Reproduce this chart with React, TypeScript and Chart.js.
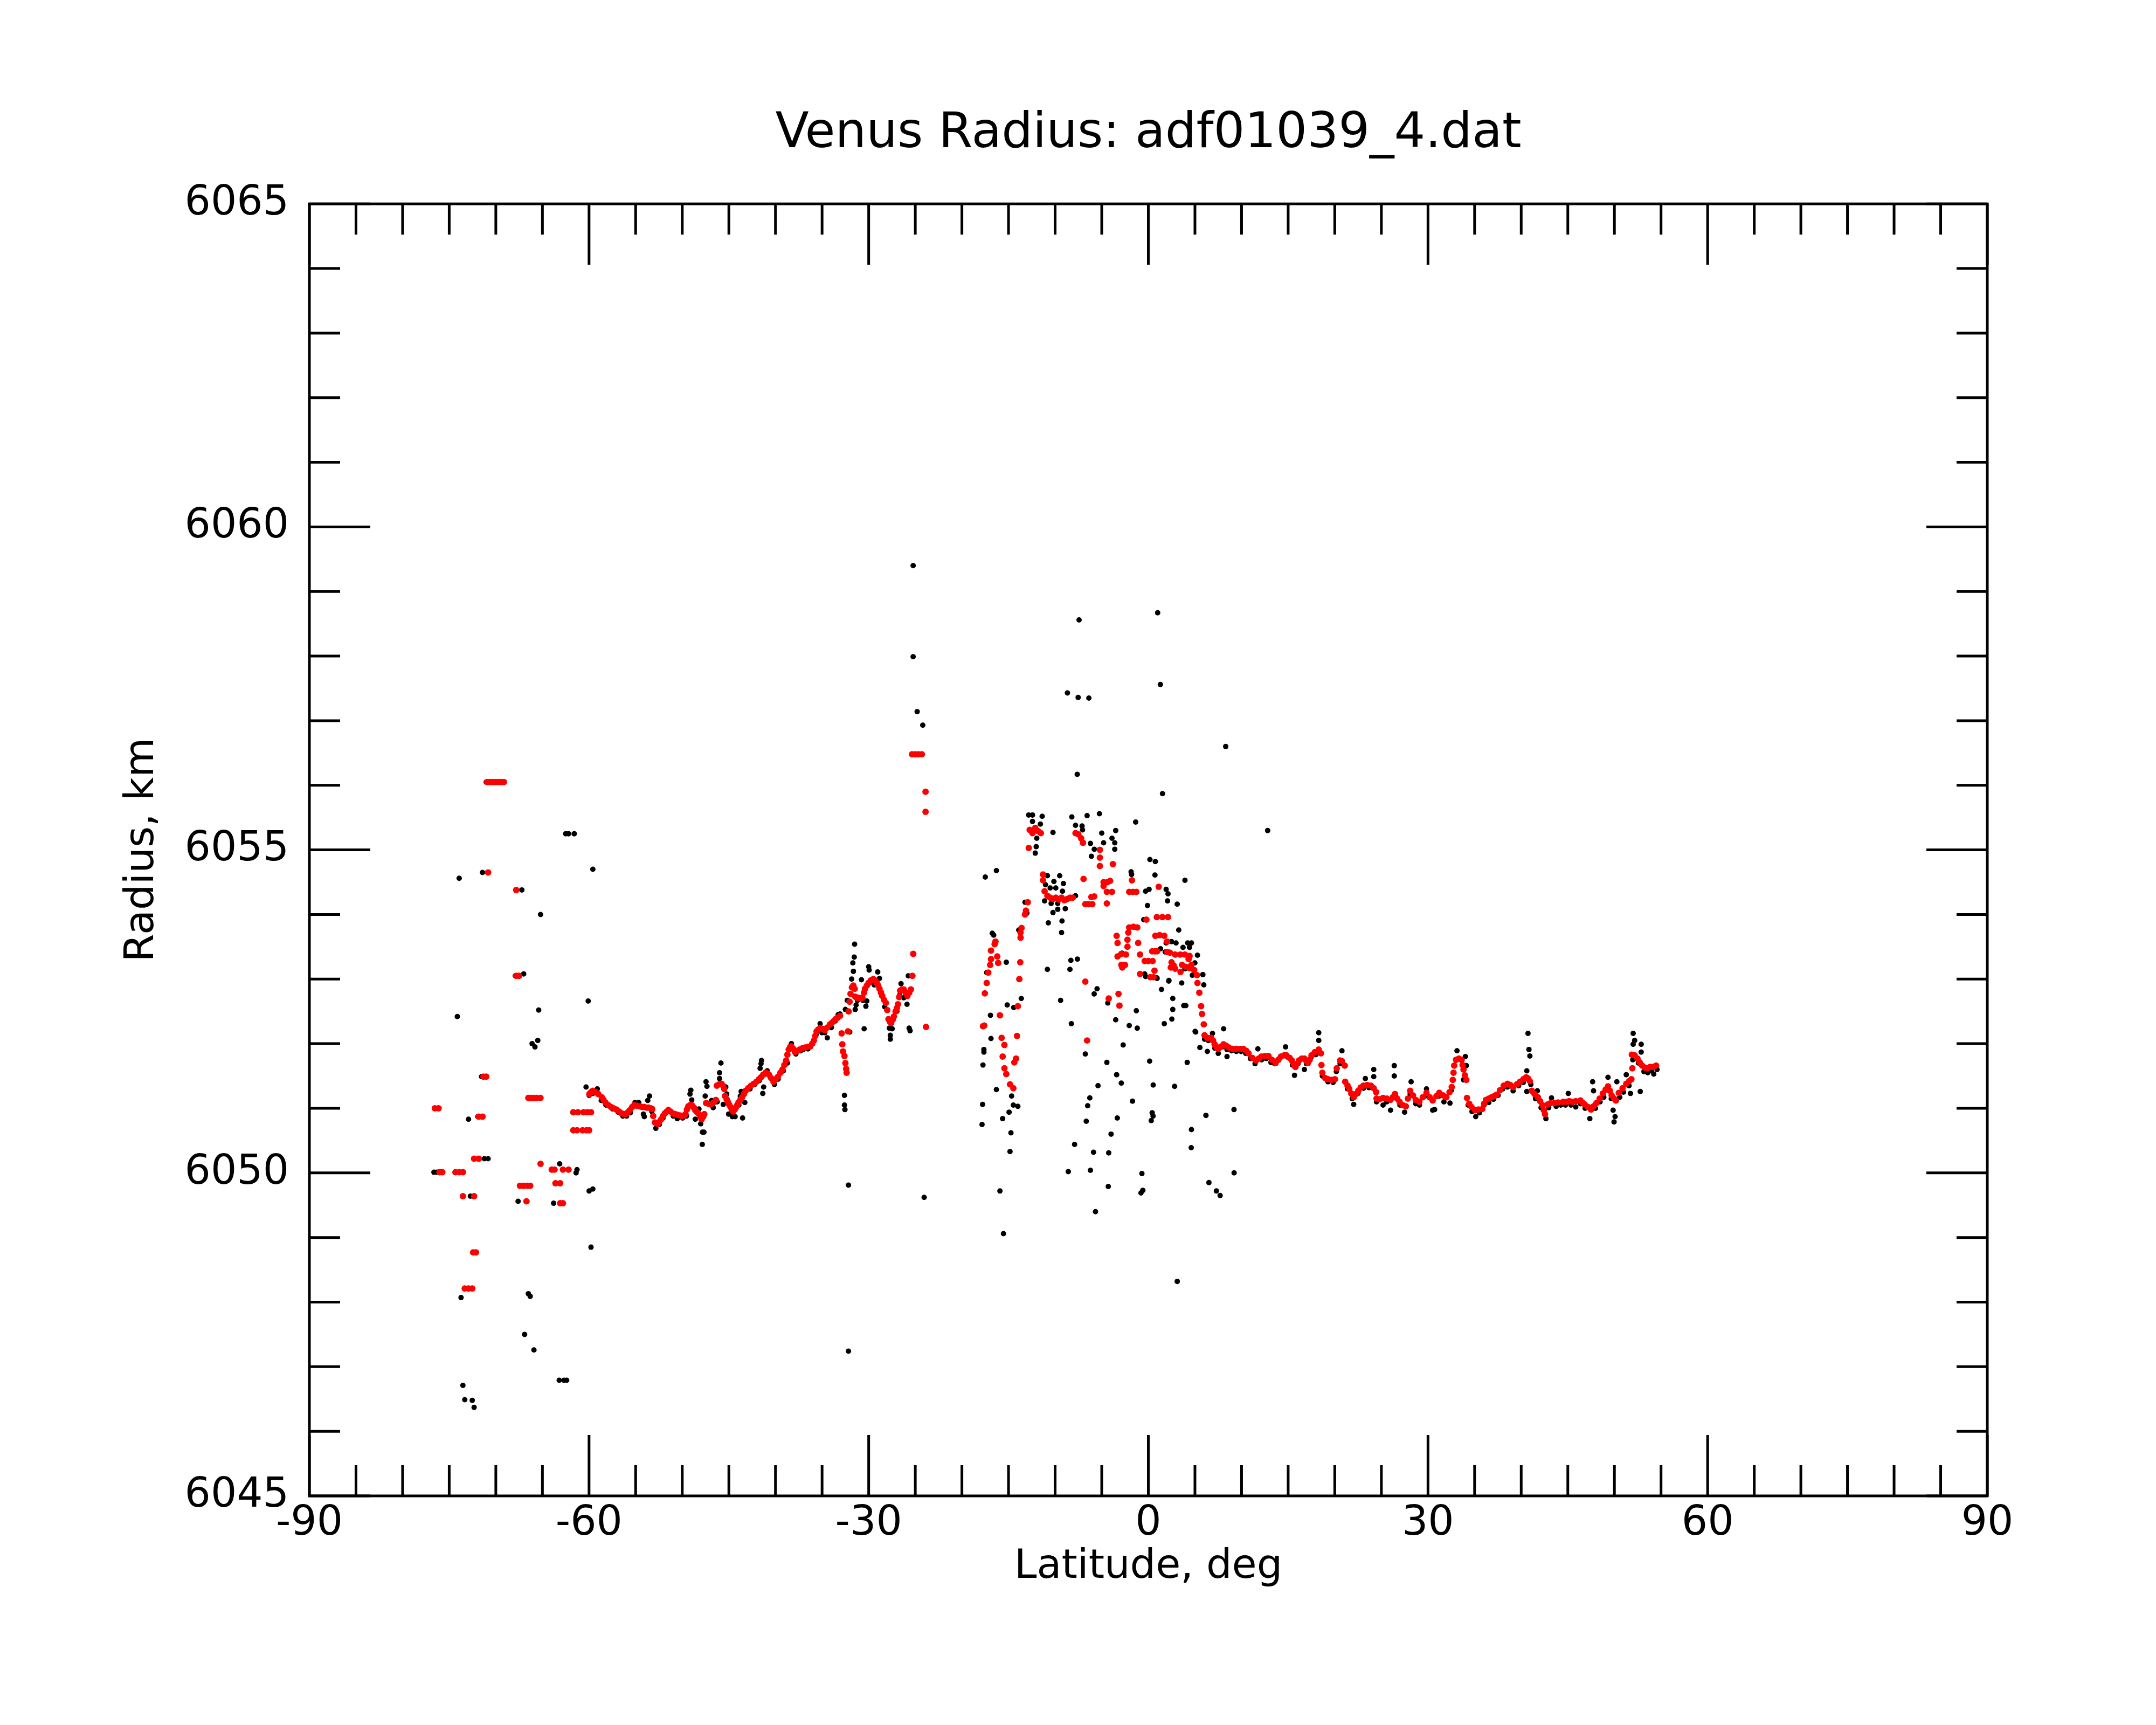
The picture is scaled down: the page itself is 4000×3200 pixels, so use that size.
import React, { useEffect, useRef } from "react";
import { Chart, registerables } from "chart.js";

Chart.register(...registerables);

// ---------- axis definitions ----------
const X_MIN = -90;
const X_MAX = 90;
const Y_MIN = 6045;
const Y_MAX = 6065;
const X_MAJOR_STEP = 30;
const X_MINOR_STEP = 5;
const Y_MAJOR_STEP = 5;
const Y_MINOR_STEP = 1;

const TITLE = "Venus Radius: adf01039_4.dat";
const X_TITLE = "Latitude, deg";
const Y_TITLE = "Radius, km";

// ---------- smoothed (red) data: [latitude, radius] ----------
const redSouthScatter: number[][] = [
  [-76.54, 6051.0], [-76.14, 6051.0],
  [-76.04, 6050.01], [-75.74, 6050.01],
  [-74.33, 6050.01], [-73.93, 6050.01], [-73.53, 6050.01],
  [-73.53, 6049.64], [-72.33, 6049.64],
  [-72.43, 6048.77], [-72.13, 6048.77],
  [-73.33, 6048.21], [-72.93, 6048.21], [-72.53, 6048.21],
  [-72.33, 6050.22], [-71.83, 6050.22],
  [-71.83, 6050.87], [-71.43, 6050.87],
  [-71.33, 6051.49], [-71.03, 6051.49],
  [-70.83, 6054.65],
  [-70.93, 6056.05], [-70.63, 6056.05], [-70.33, 6056.05], [-70.03, 6056.05], [-69.73, 6056.05], [-69.43, 6056.05], [-69.13, 6056.05],
  [-67.81, 6054.38],
  [-67.81, 6053.05], [-67.51, 6053.05],
  [-66.51, 6051.16], [-66.21, 6051.16], [-65.91, 6051.16], [-65.61, 6051.16], [-65.21, 6051.16],
  [-67.41, 6049.8], [-67.01, 6049.8], [-66.61, 6049.8], [-66.31, 6049.8],
  [-66.71, 6049.56],
  [-65.2, 6050.14],
  [-64.0, 6050.05], [-63.7, 6050.05], [-62.8, 6050.05], [-62.2, 6050.05],
  [-63.6, 6049.84], [-63.1, 6049.84],
  [-63.1, 6049.53], [-62.8, 6049.53],
  [-61.69, 6050.66], [-61.29, 6050.66], [-60.69, 6050.66], [-60.29, 6050.66], [-59.99, 6050.66],
  [-61.69, 6050.94], [-61.19, 6050.94], [-60.59, 6050.94], [-60.19, 6050.94], [-59.79, 6050.94],
];

const redSouthTrack: number[][] = [
  [-59.97, 6051.22], [-59.79, 6051.25], [-59.59, 6051.27], [-59.29, 6051.25], [-59.01, 6051.22], [-58.63, 6051.17],
  [-58.44, 6051.13], [-58.24, 6051.09], [-57.94, 6051.05], [-57.65, 6051.02], [-57.37, 6051.0], [-57.07, 6050.98],
  [-56.77, 6050.95], [-56.49, 6050.92], [-56.22, 6050.91], [-56.01, 6050.91], [-55.82, 6050.94], [-55.63, 6050.97],
  [-55.37, 6051.02], [-55.15, 6051.05], [-54.87, 6051.04], [-54.57, 6051.03], [-54.32, 6051.02], [-54.09, 6051.02],
  [-53.81, 6051.01], [-53.6, 6051.01], [-53.36, 6051.0], [-53.22, 6050.99], [-53.12, 6050.88], [-52.93, 6050.78],
  [-52.64, 6050.76], [-52.46, 6050.79], [-52.26, 6050.83], [-52.06, 6050.88], [-51.87, 6050.92], [-51.66, 6050.95],
  [-51.49, 6050.97], [-51.26, 6050.95], [-51.01, 6050.92], [-50.76, 6050.91], [-50.53, 6050.9], [-50.26, 6050.89],
  [-50.05, 6050.88], [-49.8, 6050.89], [-49.65, 6050.91], [-49.5, 6050.98], [-49.35, 6051.03], [-49.15, 6051.05],
  [-48.98, 6051.05], [-48.75, 6051.01], [-48.6, 6050.97], [-48.4, 6050.94], [-48.21, 6050.91], [-48.05, 6050.87],
  [-47.92, 6050.83], [-47.75, 6050.87], [-47.63, 6050.91], [-47.44, 6051.08], [-47.2, 6051.07], [-46.96, 6051.06],
  [-46.65, 6051.09], [-46.39, 6051.13], [-46.29, 6051.35], [-46.05, 6051.37], [-45.79, 6051.38], [-45.63, 6051.35],
  [-45.5, 6051.3], [-45.41, 6051.19], [-45.23, 6051.14], [-45.12, 6051.1], [-44.98, 6051.06], [-44.83, 6051.02],
  [-44.68, 6050.98], [-44.54, 6050.95], [-44.38, 6050.98], [-44.25, 6051.01], [-44.11, 6051.05], [-43.97, 6051.09],
  [-43.78, 6051.13], [-43.58, 6051.17], [-43.38, 6051.22], [-43.2, 6051.27], [-42.93, 6051.31], [-42.62, 6051.35],
  [-42.33, 6051.38], [-42.04, 6051.41], [-41.77, 6051.45], [-41.55, 6051.48], [-41.32, 6051.52], [-41.07, 6051.55],
  [-40.87, 6051.54], [-40.69, 6051.52], [-40.47, 6051.47], [-40.21, 6051.41], [-39.97, 6051.45], [-39.73, 6051.49],
  [-39.47, 6051.55], [-39.25, 6051.6], [-39.05, 6051.67], [-38.86, 6051.74], [-38.72, 6051.83], [-38.58, 6051.91],
  [-38.42, 6051.95], [-38.29, 6051.96], [-38.1, 6051.92], [-37.9, 6051.87], [-37.66, 6051.89], [-37.41, 6051.91],
  [-37.11, 6051.93], [-36.84, 6051.94], [-36.56, 6051.95], [-36.26, 6051.96], [-36.06, 6052.0], [-35.88, 6052.05],
  [-35.73, 6052.12], [-35.59, 6052.19], [-35.41, 6052.22], [-35.21, 6052.24], [-34.96, 6052.23], [-34.72, 6052.21],
  [-34.46, 6052.25], [-34.15, 6052.3], [-33.96, 6052.32], [-33.76, 6052.35], [-33.56, 6052.38], [-33.37, 6052.4],
  [-33.08, 6052.43],
  [-32.9, 6052.16], [-32.83, 6051.99], [-32.76, 6051.88], [-32.6, 6051.81], [-32.5, 6051.7], [-32.42, 6051.61], [-32.37, 6051.55],
  [-32.22, 6052.19], [-32.15, 6052.5], [-32.05, 6052.65], [-31.95, 6052.77], [-31.8, 6052.87], [-31.65, 6052.9],
  [-31.5, 6052.85], [-31.45, 6052.73], [-31.26, 6052.71], [-31.05, 6052.71], [-30.85, 6052.7], [-30.68, 6052.71],
  [-30.5, 6052.79], [-30.4, 6052.85], [-30.2, 6052.9], [-30.01, 6052.94], [-29.78, 6052.98], [-29.51, 6053.0],
  [-29.3, 6052.98], [-29.12, 6052.94], [-28.98, 6052.9], [-28.84, 6052.85], [-28.68, 6052.79], [-28.55, 6052.74],
  [-28.36, 6052.68], [-28.16, 6052.63], [-28.01, 6052.52], [-27.88, 6052.38], [-27.73, 6052.34], [-27.59, 6052.32],
  [-27.43, 6052.37], [-27.3, 6052.42], [-27.11, 6052.5], [-26.98, 6052.55], [-26.86, 6052.61], [-26.73, 6052.72],
  [-26.63, 6052.82], [-26.43, 6052.84], [-26.24, 6052.84], [-26.04, 6052.79], [-25.85, 6052.74], [-25.65, 6052.79],
  [-25.47, 6052.84], [-25.31, 6053.05], [-25.22, 6053.39],
  [-23.85, 6052.26],
  [-25.35, 6056.48], [-25.0, 6056.48], [-24.65, 6056.48], [-24.3, 6056.48],
  [-23.9, 6055.9], [-23.9, 6055.59],
];

const redEquator: number[][] = [
  [-17.74, 6052.27], [-17.6, 6052.28], [-17.54, 6052.78], [-17.34, 6052.94], [-17.17, 6053.1], [-16.97, 6053.22],
  [-16.88, 6053.31], [-16.11, 6053.25], [-16.21, 6053.35], [-16.88, 6053.44], [-16.4, 6053.58], [-16.49, 6053.54],
  [-15.63, 6051.8], [-14.19, 6051.77], [-14.38, 6051.71], [-15.44, 6051.62], [-15.24, 6051.53], [-14.84, 6051.37], [-14.48, 6051.31],
  [-15.92, 6052.44], [-15.74, 6052.09], [-15.44, 6051.98], [-14.09, 6052.12], [-14.0, 6052.58], [-13.74, 6053.26], [-13.84, 6053.0],
  [-13.6, 6053.79], [-13.71, 6053.72], [-13.71, 6053.64], [-13.13, 6054.06], [-13.23, 6054.0], [-12.93, 6054.19],
  [-12.83, 6055.03],
  [-12.73, 6055.31], [-12.43, 6055.26], [-12.13, 6055.34], [-11.83, 6055.29], [-11.53, 6055.26],
  [-11.3, 6054.62], [-11.3, 6054.53],
  [-11.13, 6054.36], [-10.83, 6054.29], [-10.53, 6054.26], [-10.23, 6054.24], [-9.93, 6054.26], [-9.62, 6054.23],
  [-9.31, 6054.26], [-9.01, 6054.22], [-8.71, 6054.24], [-8.41, 6054.26], [-8.11, 6054.26],
  [-7.81, 6055.26], [-7.51, 6055.24], [-7.21, 6055.18], [-7.01, 6055.11],
  [-5.2, 6055.0], [-5.2, 6054.88], [-5.2, 6054.75], [-3.8, 6054.78],
  [-6.95, 6054.55], [-5.81, 6054.28], [-6.11, 6054.27], [-6.76, 6054.16], [-6.41, 6054.16], [-6.01, 6054.16],
  [-4.8, 6054.5], [-4.4, 6054.5], [-4.1, 6054.52], [-4.8, 6054.44], [-4.45, 6054.35], [-3.9, 6054.35], [-4.45, 6054.17],
  [-1.76, 6054.53], [-1.66, 6054.35], [-2.05, 6054.35], [-1.29, 6054.35],
  [1.11, 6054.43],
  [0.91, 6053.96], [1.51, 6053.96], [2.11, 6053.96], [-0.21, 6053.92],
  [-2.05, 6053.8], [-1.59, 6053.81], [-1.19, 6053.8], [-2.15, 6053.72],
  [0.75, 6053.67], [1.21, 6053.68], [1.71, 6053.67],
  [-3.4, 6053.67], [-2.24, 6053.61], [-1.09, 6053.56], [-3.3, 6053.56], [-2.24, 6053.5],
  [2.01, 6053.58],
  [0.41, 6053.43], [0.71, 6053.43], [0.94, 6053.43], [2.01, 6053.42], [2.31, 6053.41],
  [-2.9, 6053.39], [-2.4, 6053.38], [-3.3, 6053.35], [-0.89, 6053.38], [-0.39, 6053.28], [0.01, 6053.28], [0.46, 6053.28],
  [2.87, 6053.38], [3.42, 6053.38], [3.92, 6053.38], [4.42, 6053.36], [4.32, 6053.31],
  [-2.9, 6053.22], [-2.5, 6053.22], [-2.8, 6053.18],
  [2.49, 6053.26], [2.72, 6053.21], [2.87, 6053.16], [3.62, 6053.22], [4.02, 6053.19], [4.42, 6053.17], [4.62, 6053.22],
  [4.92, 6053.14], [5.22, 6053.06], [3.45, 6053.11],
  [0.66, 6053.13], [-0.89, 6053.08], [0.21, 6053.03], [0.56, 6053.03],
  [5.27, 6052.94], [5.47, 6052.79], [5.66, 6052.58], [5.76, 6052.46], [5.95, 6052.3],
  [2.41, 6053.18],
  [-4.25, 6052.7], [-3.2, 6052.77], [-3.1, 6052.59],
  [-6.76, 6052.96], [-6.57, 6052.05],
];

const redNorthTrack: number[][] = [
  [6.03, 6052.13], [6.33, 6052.09], [6.73, 6052.09], [6.94, 6052.05], [7.11, 6051.99], [7.34, 6051.94], [7.5, 6051.92],
  [7.74, 6051.95], [8.07, 6051.99], [8.34, 6051.97], [8.65, 6051.94], [9.04, 6051.92], [9.42, 6051.92], [9.84, 6051.92],
  [10.19, 6051.92], [10.5, 6051.89], [10.75, 6051.85], [11.15, 6051.78], [11.55, 6051.74], [11.85, 6051.77], [12.12, 6051.8],
  [12.5, 6051.81], [12.89, 6051.81], [13.25, 6051.75], [13.65, 6051.7], [13.95, 6051.75], [14.23, 6051.8], [14.56, 6051.82],
  [14.82, 6051.82], [15.16, 6051.78], [15.4, 6051.74], [15.61, 6051.68], [15.78, 6051.64], [15.96, 6051.69], [16.16, 6051.74],
  [16.46, 6051.77], [16.74, 6051.77], [16.96, 6051.73], [17.12, 6051.7], [17.31, 6051.75], [17.51, 6051.82], [17.86, 6051.87],
  [18.28, 6051.91], [18.52, 6051.85], [18.57, 6051.67], [18.67, 6051.55], [18.97, 6051.47], [19.27, 6051.45], [19.67, 6051.44],
  [20.02, 6051.45], [20.21, 6051.62], [20.57, 6051.74], [20.77, 6051.73], [21.07, 6051.66], [21.12, 6051.41], [21.37, 6051.35],
  [21.55, 6051.3], [21.77, 6051.23], [22.03, 6051.17], [22.27, 6051.22], [22.52, 6051.27], [22.78, 6051.32], [23.08, 6051.35],
  [23.48, 6051.36], [23.88, 6051.35], [24.18, 6051.31], [24.44, 6051.25], [24.48, 6051.15], [24.78, 6051.14], [25.18, 6051.16],
  [25.58, 6051.15], [25.98, 6051.13], [26.23, 6051.17], [26.46, 6051.22], [26.69, 6051.15], [26.95, 6051.1], [27.29, 6051.05],
  [27.62, 6051.03], [27.84, 6051.15], [28.09, 6051.27], [28.39, 6051.2], [28.69, 6051.13], [29.07, 6051.1], [29.44, 6051.17],
  [29.84, 6051.24], [30.19, 6051.17], [30.5, 6051.12], [30.91, 6051.19], [31.21, 6051.24], [31.61, 6051.2], [31.97, 6051.17],
  [32.31, 6051.25], [32.55, 6051.33], [32.66, 6051.44], [32.74, 6051.55], [32.81, 6051.66], [33.01, 6051.75], [33.31, 6051.77],
  [33.61, 6051.75], [33.71, 6051.67], [33.81, 6051.6], [33.96, 6051.51], [34.11, 6051.44], [34.18, 6051.16], [34.42, 6051.07],
  [34.67, 6051.02], [35.06, 6050.97], [35.42, 6050.98], [35.82, 6050.99], [36.02, 6051.07], [36.22, 6051.13], [36.52, 6051.15],
  [36.82, 6051.17], [37.12, 6051.19], [37.36, 6051.21], [37.72, 6051.28], [38.12, 6051.35], [38.53, 6051.38], [38.83, 6051.36],
  [39.13, 6051.33], [39.53, 6051.37], [39.87, 6051.41], [40.23, 6051.45], [40.53, 6051.48], [40.73, 6051.46], [40.93, 6051.42],
  [41.13, 6051.27], [41.43, 6051.22], [41.79, 6051.17], [42.03, 6051.11], [42.27, 6051.05], [42.43, 6050.97], [42.55, 6050.91],
  [42.85, 6051.06], [43.15, 6051.08], [43.55, 6051.08], [43.95, 6051.09], [44.5, 6051.1], [44.85, 6051.1], [45.15, 6051.11],
  [45.45, 6051.1], [45.85, 6051.11], [46.35, 6051.12], [46.56, 6051.09], [46.81, 6051.06], [47.16, 6051.02], [47.49, 6050.98],
  [47.76, 6051.03], [48.06, 6051.08], [48.41, 6051.15], [48.76, 6051.23], [49.06, 6051.29], [49.31, 6051.34], [49.51, 6051.27],
  [49.7, 6051.2], [49.96, 6051.15], [50.16, 6051.12], [50.47, 6051.24], [50.87, 6051.31], [51.27, 6051.38], [51.57, 6051.42],
  [51.82, 6051.45], [51.92, 6051.62], [51.87, 6051.83], [52.17, 6051.82], [52.47, 6051.77], [52.72, 6051.71], [52.97, 6051.66],
  [53.27, 6051.63], [53.55, 6051.62], [53.82, 6051.64], [54.12, 6051.64], [54.47, 6051.66],
];

// ---------- raw (black) data: [latitude, radius] ----------
const blackSouthScatter: number[][] = [
  [-73.93, 6054.56], [-71.43, 6054.65], [-67.21, 6054.38], [-62.5, 6055.25], [-62.2, 6055.25], [-61.59, 6055.25],
  [-59.59, 6054.7], [-65.2, 6054.0], [-67.91, 6053.05], [-67.01, 6053.08], [-60.09, 6052.66], [-74.13, 6052.42],
  [-65.4, 6052.52], [-66.11, 6052.0], [-65.8, 6051.95], [-65.5, 6052.05], [-71.53, 6051.49], [-72.93, 6050.83],
  [-71.93, 6050.87], [-71.23, 6050.22], [-70.83, 6050.22], [-76.64, 6050.01], [-76.34, 6050.01], [-63.15, 6050.14],
  [-61.29, 6050.05], [-61.39, 6050.0], [-67.61, 6049.56], [-63.8, 6049.53], [-59.99, 6049.72], [-59.59, 6049.75],
  [-72.73, 6049.64], [-59.79, 6048.85], [-72.13, 6048.77], [-73.73, 6048.07], [-66.51, 6048.13], [-66.31, 6048.09],
  [-66.91, 6047.5], [-65.91, 6047.26], [-63.2, 6046.79], [-62.7, 6046.79], [-62.4, 6046.79], [-73.53, 6046.71],
  [-73.33, 6046.49], [-72.53, 6046.48], [-72.33, 6046.37], [-71.03, 6056.05], [-60.32, 6051.33],
];

const blackSouthTrack: number[][] = [
  [-59.99, 6051.2], [-59.59, 6051.23], [-59.11, 6051.3], [-58.69, 6051.12], [-58.19, 6051.05], [-57.47, 6050.99],
  [-56.87, 6050.94], [-56.37, 6050.88], [-55.97, 6050.88], [-55.57, 6050.93], [-55.07, 6051.09], [-54.67, 6051.09],
  [-54.17, 6050.91], [-54.07, 6050.87], [-53.7, 6051.12], [-53.51, 6051.19], [-53.26, 6050.95], [-52.83, 6050.69],
  [-52.46, 6050.75], [-52.06, 6050.85], [-51.49, 6050.98], [-50.96, 6050.88], [-50.53, 6050.84], [-49.96, 6050.85],
  [-49.55, 6050.88], [-49.17, 6051.22], [-49.08, 6051.28], [-48.98, 6051.13], [-48.6, 6050.83], [-48.21, 6050.99],
  [-48.02, 6050.76], [-47.67, 6050.63], [-47.83, 6050.63], [-47.85, 6050.44], [-47.45, 6051.41], [-47.35, 6051.34],
  [-47.54, 6051.19], [-46.85, 6051.12], [-46.68, 6051.01], [-46.25, 6051.1], [-45.85, 6051.7], [-46.0, 6051.55],
  [-46.0, 6051.46], [-45.33, 6051.33], [-45.23, 6051.22], [-45.6, 6051.06], [-45.03, 6050.91], [-44.63, 6050.87],
  [-44.33, 6050.87], [-43.93, 6051.05], [-43.53, 6050.85], [-43.68, 6051.26], [-43.77, 6051.19], [-43.29, 6051.09],
  [-42.73, 6051.3], [-42.23, 6051.37], [-41.72, 6051.43], [-41.5, 6051.74], [-41.55, 6051.69], [-41.65, 6051.62],
  [-40.88, 6051.58], [-40.69, 6051.52], [-41.27, 6051.33], [-41.36, 6051.23], [-40.11, 6051.37], [-39.72, 6051.45],
  [-39.15, 6051.58], [-38.72, 6051.7], [-38.29, 6052.0], [-37.81, 6051.84], [-37.31, 6051.89], [-37.03, 6051.91],
  [-36.51, 6051.92], [-36.01, 6052.0], [-35.61, 6052.15], [-35.21, 6052.31], [-35.01, 6052.17], [-34.71, 6052.17],
  [-34.44, 6052.09], [-34.01, 6052.25], [-33.6, 6052.35], [-33.27, 6052.45],
  [-31.51, 6053.54], [-31.55, 6053.34], [-31.7, 6053.25], [-31.64, 6053.12], [-31.83, 6053.0], [-30.78, 6052.99],
  [-30.0, 6053.19], [-29.95, 6053.14], [-29.03, 6053.11], [-28.84, 6053.01], [-29.41, 6052.91], [-30.2, 6052.66],
  [-30.3, 6052.58], [-31.35, 6052.6], [-31.45, 6052.53], [-32.3, 6052.67], [-32.5, 6052.53], [-33.08, 6052.46],
  [-32.03, 6052.18], [-30.49, 6052.23], [-26.53, 6052.93], [-25.75, 6053.05], [-27.78, 6052.24], [-27.48, 6052.23],
  [-27.68, 6052.13], [-27.68, 6052.07], [-25.89, 6052.61], [-25.66, 6052.24], [-25.56, 6052.2], [-26.24, 6052.71],
  [-31.2, 6052.67], [-30.6, 6052.67], [-29.58, 6052.96], [-28.28, 6052.57], [-26.98, 6052.5], [-26.68, 6052.75],
  [-32.6, 6051.2], [-32.6, 6051.05], [-32.55, 6050.98], [-32.17, 6049.81], [-32.17, 6047.24],
  [-25.23, 6059.4], [-25.23, 6057.99], [-24.8, 6057.14], [-24.2, 6056.93], [-24.05, 6049.62],
];

const blackEquator: number[][] = [
  [-7.43, 6058.56], [1.0, 6058.67], [-8.68, 6057.43], [-7.53, 6057.36], [-6.38, 6057.35], [1.29, 6057.56],
  [-7.63, 6056.17], [1.52, 6055.87], [8.3, 6056.6], [12.8, 6055.3],
  [-12.83, 6055.54], [-12.43, 6055.54], [-11.39, 6055.52], [-8.21, 6055.51], [-6.57, 6055.53], [-5.25, 6055.56],
  [-1.36, 6055.43], [-12.43, 6055.44], [-11.58, 6055.4], [-7.81, 6055.38], [-7.11, 6055.37], [-7.06, 6055.31],
  [-10.23, 6055.27], [-5.0, 6055.26], [-3.5, 6055.3],
  [-11.97, 6055.18], [-12.03, 6055.05], [-12.13, 6054.95], [-6.21, 6055.1], [-5.8, 6055.01], [-6.11, 6054.9],
  [-4.8, 6055.11], [-3.9, 6055.18], [-3.6, 6055.11], [-3.6, 6055.01], [0.17, 6054.85], [0.75, 6054.82],
  [0.71, 6054.61], [-16.3, 6054.68], [-17.49, 6054.58], [-10.83, 6054.6], [-9.51, 6054.6], [-10.13, 6054.51],
  [-9.11, 6054.48], [-11.13, 6054.21], [-10.43, 6054.17], [-9.72, 6054.17], [-10.23, 6054.03], [-9.72, 6054.08],
  [-8.91, 6054.09], [-10.73, 6053.87], [-9.26, 6053.9], [-9.31, 6053.72], [-1.85, 6054.66], [-1.8, 6054.62],
  [-0.29, 6054.36], [0.08, 6054.39], [1.91, 6054.39], [2.11, 6054.32], [2.06, 6054.21], [-0.09, 6054.14],
  [1.31, 6053.47], [1.81, 6053.42], [-0.39, 6053.08], [0.91, 6053.02], [2.21, 6052.98], [1.41, 6052.84],
  [2.62, 6052.7], [2.62, 6052.53], [-1.29, 6052.51], [-3.5, 6052.37], [-2.05, 6052.28], [-1.19, 6052.24],
  [2.52, 6052.38], [1.71, 6052.31], [-4.35, 6052.63], [-5.5, 6052.85], [-5.81, 6052.77], [-8.31, 6053.29],
  [-7.61, 6053.31], [-8.41, 6053.15], [-9.41, 6052.67], [-10.83, 6053.15], [-8.26, 6052.31], [-2.7, 6051.98],
  [-15.24, 6053.26], [-16.59, 6053.68], [-16.74, 6053.71], [-16.84, 6053.31], [-17.34, 6053.1], [-13.9, 6053.76],
  [-13.23, 6054.19], [-13.03, 6054.02], [-16.94, 6052.44], [-15.14, 6052.6], [-14.44, 6052.56], [-13.63, 6052.7],
  [-16.88, 6052.08], [-17.64, 6051.91],
  [-11.03, 6054.46], [-10.53, 6054.41], [-9.93, 6054.41], [-9.21, 6054.36], [-7.81, 6054.29], [-0.49, 6053.92],
  [-2.8, 6053.4], [1.91, 6053.56],
  [-17.64, 6051.87], [-17.74, 6051.67], [-16.3, 6051.29], [-14.67, 6051.19], [-17.78, 6051.06], [-14.48, 6051.05],
  [-14.0, 6051.03], [-14.94, 6050.94], [-15.63, 6050.84], [-17.84, 6050.75], [-14.74, 6050.62], [-14.84, 6050.33],
  [-15.92, 6049.72], [-15.54, 6049.06], [-6.76, 6051.84], [-4.45, 6051.71], [0.14, 6051.73], [-3.4, 6051.52],
  [-2.9, 6051.39], [-5.4, 6051.35], [0.52, 6051.36], [-6.28, 6051.16], [-6.51, 6051.04], [-1.7, 6051.11],
  [0.41, 6050.93], [0.51, 6050.88], [0.31, 6050.81], [-6.66, 6050.8], [-3.33, 6050.85], [-4.0, 6050.6],
  [-7.91, 6050.44], [-5.88, 6050.32], [-4.25, 6050.31], [-8.59, 6050.02], [-6.21, 6050.04], [-0.69, 6049.99],
  [-4.3, 6049.79], [-0.59, 6049.73], [-0.79, 6049.69], [-5.67, 6049.4], [2.82, 6051.34],
  [3.1, 6048.32], [4.6, 6050.39], [6.5, 6049.85], [7.3, 6049.72], [7.7, 6049.65], [9.2, 6050.0],
  [3.93, 6054.53], [3.1, 6054.16], [3.26, 6053.76], [2.49, 6053.58], [2.97, 6053.56], [4.22, 6053.56], [4.62, 6053.56],
  [3.72, 6053.49], [4.42, 6053.49], [5.27, 6053.37], [4.99, 6053.25], [-0.29, 6053.04], [0.94, 6053.01], [2.19, 6052.97],
  [3.58, 6052.94], [5.85, 6053.07], [5.95, 6052.91], [3.8, 6052.59], [5.08, 6052.18], [8.08, 6052.23],
  [3.92, 6053.16], [4.72, 6053.06],
];

const blackNorthTrack: number[][] = [
  [4.02, 6052.59], [5.02, 6052.19], [4.17, 6051.71], [5.53, 6051.94], [6.33, 6051.88], [6.18, 6050.89], [9.19, 6050.98], [4.62, 6050.67],
  [6.03, 6052.07], [6.44, 6052.05], [6.88, 6052.16], [7.14, 6051.93], [7.5, 6051.85], [7.94, 6051.95],
  [8.44, 6051.91], [8.44, 6051.8], [8.94, 6051.89], [9.44, 6051.88], [9.94, 6051.88], [10.45, 6051.85], [10.95, 6051.77],
  [11.45, 6051.69], [11.75, 6051.92], [12.15, 6051.75], [12.65, 6051.77], [13.15, 6051.71], [13.55, 6051.69], [14.05, 6051.77],
  [14.72, 6051.95], [14.96, 6051.79], [15.46, 6051.67], [15.68, 6051.51], [16.06, 6051.69], [16.74, 6051.6], [16.96, 6051.69],
  [17.46, 6051.79], [17.96, 6051.83], [18.28, 6052.17], [18.28, 6052.05], [18.67, 6051.5], [19.27, 6051.41], [19.82, 6051.4],
  [20.17, 6051.57], [20.77, 6051.89], [20.57, 6051.69], [21.37, 6051.3], [22.03, 6051.06], [21.87, 6051.15], [22.48, 6051.23],
  [23.28, 6051.46], [23.08, 6051.31], [23.68, 6051.32], [24.18, 6051.6], [24.18, 6051.49], [24.48, 6051.1], [25.18, 6051.05],
  [25.58, 6051.1], [25.98, 6050.97], [26.38, 6051.66], [26.38, 6051.5], [26.59, 6051.17], [26.99, 6051.05], [27.49, 6050.94],
  [28.19, 6051.41], [28.09, 6051.22], [28.69, 6051.07], [29.09, 6051.05], [29.84, 6051.3], [29.69, 6051.19], [30.5, 6050.97],
  [30.71, 6050.98], [31.21, 6051.19], [31.71, 6051.1], [32.36, 6051.08], [32.51, 6051.28], [33.11, 6051.89], [34.01, 6051.8],
  [34.11, 6051.66], [33.81, 6051.44], [34.31, 6051.05], [34.72, 6050.95], [35.12, 6050.87], [35.52, 6050.93], [36.02, 6051.05],
  [36.52, 6051.09], [37.02, 6051.14], [37.52, 6051.2], [38.02, 6051.3], [38.53, 6051.33], [39.13, 6051.27], [39.73, 6051.35],
  [40.23, 6051.4], [40.73, 6052.16], [40.83, 6051.91], [40.93, 6051.81], [40.6, 6051.58], [40.6, 6051.26], [41.03, 6051.37],
  [41.73, 6051.27], [41.53, 6051.15], [42.13, 6051.01], [42.65, 6050.84], [42.95, 6051.01], [43.25, 6051.16], [43.75, 6051.03],
  [44.25, 6051.05], [45.05, 6051.23], [44.75, 6051.05], [45.35, 6051.05], [45.85, 6051.02], [46.35, 6051.07], [46.86, 6051.0],
  [47.36, 6050.84], [47.66, 6051.41], [47.76, 6051.27], [47.96, 6051.0], [48.46, 6051.1], [48.86, 6051.17], [49.31, 6051.48],
  [49.36, 6051.28], [49.66, 6051.15], [49.86, 6050.97], [50.07, 6050.87], [49.96, 6050.79], [50.26, 6051.41], [50.57, 6051.17],
  [50.97, 6051.25], [51.27, 6051.52], [51.72, 6051.23], [51.57, 6051.35], [52.01, 6052.16], [52.17, 6052.05], [52.01, 6051.99],
  [52.87, 6051.99], [52.87, 6051.87], [51.97, 6051.75], [52.77, 6051.26], [52.57, 6051.7], [53.17, 6051.57], [53.57, 6051.55],
  [54.22, 6051.53], [53.97, 6051.58], [54.57, 6051.6],
];

const FONT = "'DejaVu Sans', 'Liberation Sans', sans-serif";

const toPoints = (groups: number[][][]) =>
  groups.flat().map(([x, y]) => ({ x, y }));

const frameTicksPlugin = {
  id: "frameTicks",
  afterDraw(chart: any) {
    const { ctx, chartArea } = chart;
    const { left, right, top, bottom } = chartArea;
    const xs = chart.scales.x;
    const ys = chart.scales.y;
    const major = 113;
    const minor = 57;
    ctx.save();
    ctx.strokeStyle = "#000";
    ctx.lineWidth = 5;
    ctx.lineCap = "butt";
    ctx.beginPath();
    for (let v = X_MIN; v <= X_MAX + 1e-9; v += X_MINOR_STEP) {
      const px = xs.getPixelForValue(v);
      const len = Math.abs(v % X_MAJOR_STEP) < 1e-9 ? major : minor;
      ctx.moveTo(px, bottom);
      ctx.lineTo(px, bottom - len);
      ctx.moveTo(px, top);
      ctx.lineTo(px, top + len);
    }
    for (let v = Y_MIN; v <= Y_MAX + 1e-9; v += Y_MINOR_STEP) {
      const py = ys.getPixelForValue(v);
      const len = Math.abs((v - Y_MIN) % Y_MAJOR_STEP) < 1e-9 ? major : minor;
      ctx.moveTo(left, py);
      ctx.lineTo(left + len, py);
      ctx.moveTo(right, py);
      ctx.lineTo(right - len, py);
    }
    ctx.stroke();
    ctx.strokeRect(left, top, right - left, bottom - top);
    ctx.restore();
  },
};

export default function App() {
  const ref = useRef<HTMLCanvasElement | null>(null);

  useEffect(() => {
    document.body.style.margin = "0";
    document.body.style.background = "#ffffff";
    const canvas = ref.current;
    if (!canvas) return;
    const chart = new Chart(canvas, {
      type: "scatter",
      data: {
        datasets: [
          {
            label: "smoothed",
            data: toPoints([redSouthScatter, redSouthTrack, redEquator, redNorthTrack]),
            backgroundColor: "#ff0000",
            borderColor: "#ff0000",
            pointRadius: 6,
            pointBorderWidth: 0,
            pointHoverRadius: 6,
          },
          {
            label: "raw",
            data: toPoints([blackSouthScatter, blackSouthTrack, blackEquator, blackNorthTrack]),
            backgroundColor: "#000000",
            borderColor: "#000000",
            pointRadius: 5,
            pointBorderWidth: 0,
            pointHoverRadius: 5,
          },
        ],
      },
      options: {
        animation: false,
        responsive: false,
        devicePixelRatio: 1,
        events: [],
        layout: { padding: { left: 0, right: 313, top: 0, bottom: 225 } },
        plugins: {
          legend: { display: false },
          tooltip: { enabled: false },
          title: {
            display: true,
            fullSize: false,
            text: TITLE,
            color: "#000",
            font: { family: FONT, size: 91, weight: "normal" },
            padding: { top: 195, bottom: 74 },
          },
        },
        scales: {
          x: {
            type: "linear",
            position: "bottom",
            min: X_MIN,
            max: X_MAX,
            grid: { display: false, drawTicks: false },
            border: { display: false },
            ticks: {
              stepSize: X_MAJOR_STEP,
              color: "#000",
              font: { family: FONT, size: 76 },
              padding: 7,
              maxRotation: 0,
              autoSkip: false,
              callback: (v: any) => String(v),
            },
            title: {
              display: true,
              text: X_TITLE,
              color: "#000",
              font: { family: FONT, size: 75 },
              padding: { top: 0, bottom: 22 },
            },
            afterFit: (scale: any) => {
              scale.height = 200;
              scale.paddingLeft = 0;
              scale.paddingRight = 0;
            },
          },
          y: {
            type: "linear",
            position: "left",
            min: Y_MIN,
            max: Y_MAX,
            grid: { display: false, drawTicks: false },
            border: { display: false },
            ticks: {
              stepSize: Y_MAJOR_STEP,
              color: "#000",
              font: { family: FONT, size: 76 },
              padding: 38,
              callback: (v: any) => String(v),
            },
            title: {
              display: true,
              text: Y_TITLE,
              color: "#000",
              font: { family: FONT, size: 75 },
              padding: { top: 220, bottom: 0 },
            },
            afterFit: (scale: any) => {
              scale.width = 574;
              scale.paddingTop = 0;
              scale.paddingBottom = 0;
            },
          },
        },
      },
      plugins: [frameTicksPlugin],
    } as any);
    return () => chart.destroy();
  }, []);

  return (
    <div style={{ width: 4000, height: 3200, background: "#ffffff" }}>
      <canvas
        ref={ref}
        width={4000}
        height={3200}
        style={{ display: "block", width: 4000, height: 3200 }}
      />
    </div>
  );
}
